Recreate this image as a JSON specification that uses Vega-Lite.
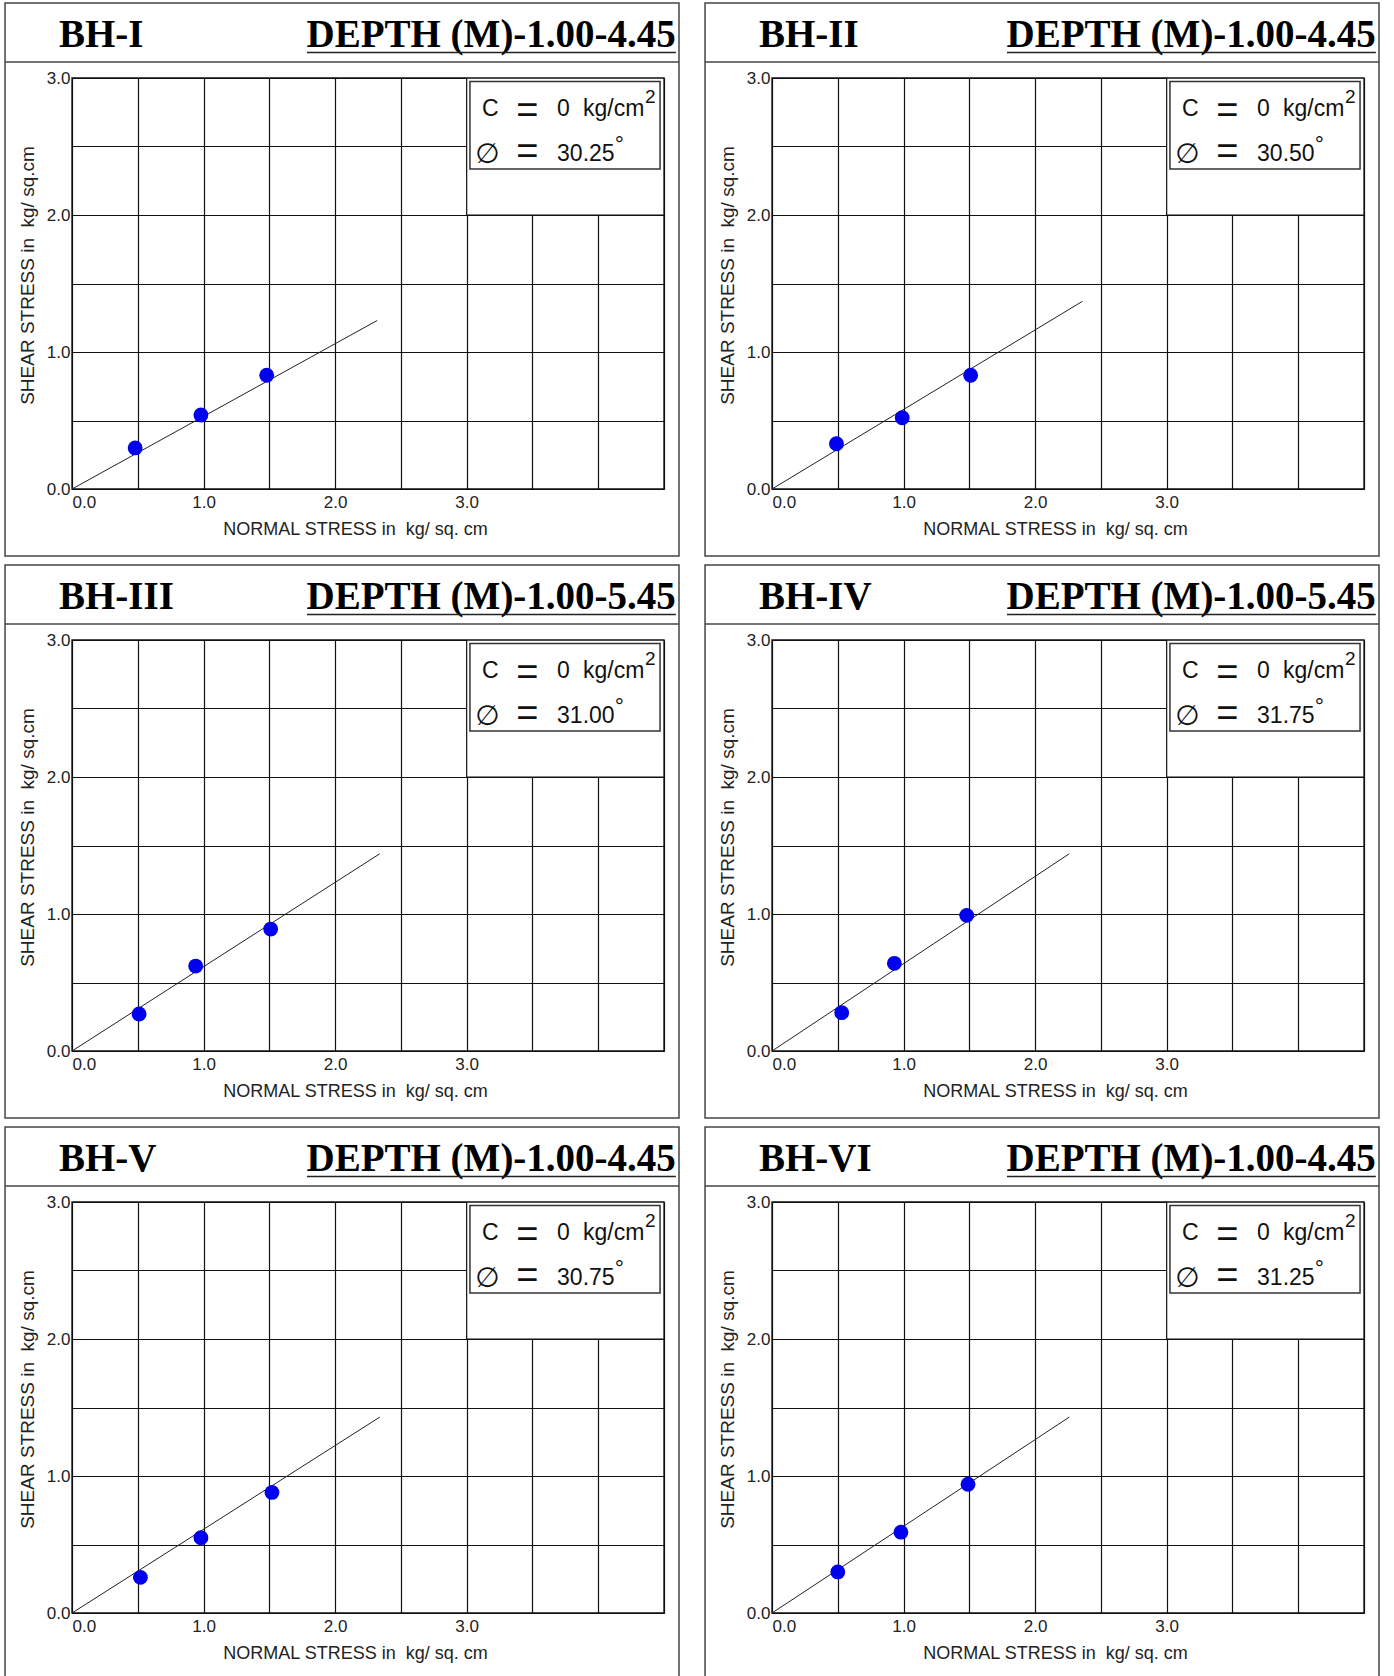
{
  "$schema": "https://vega.github.io/schema/vega-lite/v6.json",
  "autosize": {"type": "pad"},
  "padding": {"left": 4, "top": 1, "right": 0, "bottom": 0},
  "background": "white",
  "data": {"values": [
    {"bh": "BH-I", "kind": "info", "depth": "DEPTH (M)-1.00-4.45", "c": 0, "phi": 30.25},
    {"bh": "BH-I", "kind": "pt", "x": 0.48, "y": 0.30},
    {"bh": "BH-I", "kind": "pt", "x": 0.98, "y": 0.54},
    {"bh": "BH-I", "kind": "pt", "x": 1.48, "y": 0.83},
    {"bh": "BH-I", "kind": "line", "x": 0, "y": 0},
    {"bh": "BH-I", "kind": "line", "x": 2.32, "y": 1.23},
    {"bh": "BH-II", "kind": "info", "depth": "DEPTH (M)-1.00-4.45", "c": 0, "phi": 30.50},
    {"bh": "BH-II", "kind": "pt", "x": 0.49, "y": 0.33},
    {"bh": "BH-II", "kind": "pt", "x": 0.99, "y": 0.52},
    {"bh": "BH-II", "kind": "pt", "x": 1.51, "y": 0.83},
    {"bh": "BH-II", "kind": "line", "x": 0, "y": 0},
    {"bh": "BH-II", "kind": "line", "x": 2.36, "y": 1.37},
    {"bh": "BH-III", "kind": "info", "depth": "DEPTH (M)-1.00-5.45", "c": 0, "phi": 31.00},
    {"bh": "BH-III", "kind": "pt", "x": 0.51, "y": 0.27},
    {"bh": "BH-III", "kind": "pt", "x": 0.94, "y": 0.62},
    {"bh": "BH-III", "kind": "pt", "x": 1.51, "y": 0.89},
    {"bh": "BH-III", "kind": "line", "x": 0, "y": 0},
    {"bh": "BH-III", "kind": "line", "x": 2.34, "y": 1.44},
    {"bh": "BH-IV", "kind": "info", "depth": "DEPTH (M)-1.00-5.45", "c": 0, "phi": 31.75},
    {"bh": "BH-IV", "kind": "pt", "x": 0.53, "y": 0.28},
    {"bh": "BH-IV", "kind": "pt", "x": 0.93, "y": 0.64},
    {"bh": "BH-IV", "kind": "pt", "x": 1.48, "y": 0.99},
    {"bh": "BH-IV", "kind": "line", "x": 0, "y": 0},
    {"bh": "BH-IV", "kind": "line", "x": 2.26, "y": 1.44},
    {"bh": "BH-V", "kind": "info", "depth": "DEPTH (M)-1.00-4.45", "c": 0, "phi": 30.75},
    {"bh": "BH-V", "kind": "pt", "x": 0.52, "y": 0.26},
    {"bh": "BH-V", "kind": "pt", "x": 0.98, "y": 0.55},
    {"bh": "BH-V", "kind": "pt", "x": 1.52, "y": 0.88},
    {"bh": "BH-V", "kind": "line", "x": 0, "y": 0},
    {"bh": "BH-V", "kind": "line", "x": 2.34, "y": 1.43},
    {"bh": "BH-VI", "kind": "info", "depth": "DEPTH (M)-1.00-4.45", "c": 0, "phi": 31.25},
    {"bh": "BH-VI", "kind": "pt", "x": 0.50, "y": 0.30},
    {"bh": "BH-VI", "kind": "pt", "x": 0.98, "y": 0.59},
    {"bh": "BH-VI", "kind": "pt", "x": 1.49, "y": 0.94},
    {"bh": "BH-VI", "kind": "line", "x": 0, "y": 0},
    {"bh": "BH-VI", "kind": "line", "x": 2.26, "y": 1.43}
  ]},
  "facet": {"field": "bh", "type": "nominal", "sort": ["BH-I", "BH-II", "BH-III", "BH-IV", "BH-V", "BH-VI"], "header": {"title": null, "labels": false, "labelExpr": "''", "labelFontSize": 1, "labelPadding": 0}},
  "columns": 2,
  "spacing": {"row": 151, "column": 108},
  "bounds": "flush",
  "resolve": {"axis": {"x": "independent", "y": "independent"}},
  "spec": {
    "width": 592,
    "height": 411,
    "layer": [
      {
        "transform": [{"filter": "datum.kind === 'info'"}],
        "layer": [
          {"mark": {"type": "rect", "fill": "#ffffff", "strokeWidth": 0},
           "encoding": {
             "x": {"datum": 3, "type": "quantitative", "scale": {"domain": [0, 4.5], "nice": false, "zero": false},
               "axis": {"values": [0, 0.5, 1, 1.5, 2, 2.5, 3, 3.5, 4, 4.5], "labelExpr": "datum.value <= 3 && datum.value % 1 === 0 ? format(datum.value, '.1f') : ''", "grid": true, "gridColor": "#111111", "gridWidth": 1.2, "ticks": false, "domain": false, "labelFont": "Liberation Sans", "labelFontSize": 17, "labelColor": "#222222", "labelPadding": 5, "labelDx": 4, "labelFlush": true, "labelOverlap": false, "title": "NORMAL STRESS in\u00a0 kg/ sq. cm", "titleFont": "Liberation Sans", "titleFontSize": 18, "titleFontWeight": "normal", "titleColor": "#222222", "titlePadding": 10, "titleX": 283}},
             "x2": {"datum": 4.5},
             "y": {"datum": 2, "type": "quantitative", "scale": {"domain": [0, 3], "nice": false, "zero": false},
               "axis": {"values": [0, 0.5, 1, 1.5, 2, 2.5, 3], "labelExpr": "datum.value % 1 === 0 ? format(datum.value, '.1f') : ''", "grid": true, "gridColor": "#111111", "gridWidth": 1.2, "ticks": false, "domain": false, "labelFont": "Liberation Sans", "labelFontSize": 17, "labelColor": "#222222", "labelPadding": 2, "labelOverlap": false, "title": "SHEAR STRESS in\u00a0 kg/ sq.cm", "titleFont": "Liberation Sans", "titleFontSize": 19, "titleFontWeight": "normal", "titleColor": "#222222", "titlePadding": 9, "titleY": 197}},
             "y2": {"datum": 3}
           }},
          {"mark": {"type": "rule", "color": "#111111", "strokeWidth": 1.2},
           "encoding": {"x": {"datum": 3, "type": "quantitative", "scale": {"domain": [0, 4.5], "nice": false, "zero": false}}, "y": {"datum": 2, "type": "quantitative", "scale": {"domain": [0, 3], "nice": false, "zero": false}}, "y2": {"datum": 3}}},
          {"mark": {"type": "rule", "color": "#111111", "strokeWidth": 1.2},
           "encoding": {"x": {"datum": 3, "type": "quantitative", "scale": {"domain": [0, 4.5], "nice": false, "zero": false}}, "x2": {"datum": 4.5}, "y": {"datum": 2, "type": "quantitative", "scale": {"domain": [0, 3], "nice": false, "zero": false}}}},
          {"mark": {"type": "rect", "filled": false, "stroke": "#111111", "strokeWidth": 1.3},
           "encoding": {"x": {"datum": 0, "type": "quantitative", "scale": {"domain": [0, 4.5], "nice": false, "zero": false}}, "x2": {"datum": 4.5}, "y": {"datum": 0, "type": "quantitative", "scale": {"domain": [0, 3], "nice": false, "zero": false}}, "y2": {"datum": 3}}},
          {"mark": {"type": "rect", "filled": false, "stroke": "#444444", "strokeWidth": 1.5},
           "encoding": {"x": {"datum": -0.509, "type": "quantitative", "scale": {"domain": [0, 4.5], "nice": false, "zero": false}}, "x2": {"datum": 4.614}, "y": {"datum": -0.489, "type": "quantitative", "scale": {"domain": [0, 3], "nice": false, "zero": false}}, "y2": {"datum": 3.547}}},
          {"mark": {"type": "rule", "color": "#444444", "strokeWidth": 1.5},
           "encoding": {"x": {"datum": -0.509, "type": "quantitative", "scale": {"domain": [0, 4.5], "nice": false, "zero": false}}, "x2": {"datum": 4.614}, "y": {"datum": 3.117, "type": "quantitative", "scale": {"domain": [0, 3], "nice": false, "zero": false}}}},
          {"mark": {"type": "text", "font": "Liberation Serif", "fontWeight": "bold", "fontSize": 39, "align": "left", "baseline": "alphabetic", "color": "#000000"},
           "encoding": {"x": {"datum": -0.099, "type": "quantitative", "scale": {"domain": [0, 4.5], "nice": false, "zero": false}}, "y": {"datum": 3.226, "type": "quantitative", "scale": {"domain": [0, 3], "nice": false, "zero": false}}, "text": {"field": "bh", "type": "nominal"}}},
          {"mark": {"type": "text", "font": "Liberation Serif", "fontWeight": "bold", "fontSize": 39, "align": "right", "baseline": "alphabetic", "color": "#000000"},
           "encoding": {"x": {"datum": 4.59, "type": "quantitative", "scale": {"domain": [0, 4.5], "nice": false, "zero": false}}, "y": {"datum": 3.226, "type": "quantitative", "scale": {"domain": [0, 3], "nice": false, "zero": false}}, "text": {"field": "depth", "type": "nominal"}}},
          {"mark": {"type": "rule", "color": "#222222", "strokeWidth": 1.5},
           "encoding": {"x": {"datum": 1.786, "type": "quantitative", "scale": {"domain": [0, 4.5], "nice": false, "zero": false}}, "x2": {"datum": 4.59}, "y": {"datum": 3.186, "type": "quantitative", "scale": {"domain": [0, 3], "nice": false, "zero": false}}}},
          {"mark": {"type": "rect", "fill": "#ffffff", "stroke": "#333333", "strokeWidth": 1.5},
           "encoding": {"x": {"datum": 3.025, "type": "quantitative", "scale": {"domain": [0, 4.5], "nice": false, "zero": false}}, "x2": {"datum": 4.47}, "y": {"datum": 2.336, "type": "quantitative", "scale": {"domain": [0, 3], "nice": false, "zero": false}}, "y2": {"datum": 2.975}}},
          {"mark": {"type": "text", "text": "C", "font": "Liberation Sans", "fontSize": 23, "align": "left", "baseline": "alphabetic", "color": "#111111"},
           "encoding": {"x": {"datum": 3.117, "type": "quantitative", "scale": {"domain": [0, 4.5], "nice": false, "zero": false}}, "y": {"datum": 2.723, "type": "quantitative", "scale": {"domain": [0, 3], "nice": false, "zero": false}}}},
          {"mark": {"type": "text", "text": "=", "font": "Liberation Sans", "fontSize": 38, "align": "center", "baseline": "alphabetic", "color": "#111111"},
           "encoding": {"x": {"datum": 3.462, "type": "quantitative", "scale": {"domain": [0, 4.5], "nice": false, "zero": false}}, "y": {"datum": 2.669, "type": "quantitative", "scale": {"domain": [0, 3], "nice": false, "zero": false}}}},
          {"mark": {"type": "text", "font": "Liberation Sans", "fontSize": 23, "align": "left", "baseline": "alphabetic", "color": "#111111"},
           "encoding": {"x": {"datum": 3.687, "type": "quantitative", "scale": {"domain": [0, 4.5], "nice": false, "zero": false}}, "y": {"datum": 2.723, "type": "quantitative", "scale": {"domain": [0, 3], "nice": false, "zero": false}}, "text": {"field": "c", "type": "quantitative", "format": "d"}}},
          {"mark": {"type": "text", "text": "kg/cm", "font": "Liberation Sans", "fontSize": 23, "align": "left", "baseline": "alphabetic", "color": "#111111"},
           "encoding": {"x": {"datum": 3.884, "type": "quantitative", "scale": {"domain": [0, 4.5], "nice": false, "zero": false}}, "y": {"datum": 2.723, "type": "quantitative", "scale": {"domain": [0, 3], "nice": false, "zero": false}}}},
          {"mark": {"type": "text", "text": "2", "font": "Liberation Sans", "fontSize": 19, "align": "left", "baseline": "alphabetic", "color": "#111111"},
           "encoding": {"x": {"datum": 4.355, "type": "quantitative", "scale": {"domain": [0, 4.5], "nice": false, "zero": false}}, "y": {"datum": 2.818, "type": "quantitative", "scale": {"domain": [0, 3], "nice": false, "zero": false}}}},
          {"mark": {"type": "text", "text": "∅", "font": "DejaVu Sans", "fontSize": 28, "align": "center", "baseline": "alphabetic", "color": "#111111"},
           "encoding": {"x": {"datum": 3.158, "type": "quantitative", "scale": {"domain": [0, 4.5], "nice": false, "zero": false}}, "y": {"datum": 2.38, "type": "quantitative", "scale": {"domain": [0, 3], "nice": false, "zero": false}}}},
          {"mark": {"type": "text", "text": "=", "font": "Liberation Sans", "fontSize": 38, "align": "center", "baseline": "alphabetic", "color": "#111111"},
           "encoding": {"x": {"datum": 3.462, "type": "quantitative", "scale": {"domain": [0, 4.5], "nice": false, "zero": false}}, "y": {"datum": 2.369, "type": "quantitative", "scale": {"domain": [0, 3], "nice": false, "zero": false}}}},
          {"mark": {"type": "text", "font": "Liberation Sans", "fontSize": 23, "align": "left", "baseline": "alphabetic", "color": "#111111"},
           "encoding": {"x": {"datum": 3.687, "type": "quantitative", "scale": {"domain": [0, 4.5], "nice": false, "zero": false}}, "y": {"datum": 2.394, "type": "quantitative", "scale": {"domain": [0, 3], "nice": false, "zero": false}}, "text": {"field": "phi", "type": "quantitative", "format": ".2f"}}},
          {"mark": {"type": "text", "text": "°", "font": "Liberation Sans", "fontSize": 23, "align": "left", "baseline": "alphabetic", "color": "#111111"},
           "encoding": {"x": {"datum": 4.125, "type": "quantitative", "scale": {"domain": [0, 4.5], "nice": false, "zero": false}}, "y": {"datum": 2.46, "type": "quantitative", "scale": {"domain": [0, 3], "nice": false, "zero": false}}}}
        ]
      },
      {
        "transform": [{"filter": "datum.kind === 'line'"}],
        "mark": {"type": "line", "color": "#222222", "strokeWidth": 1},
        "encoding": {
          "x": {"field": "x", "type": "quantitative", "scale": {"domain": [0, 4.5], "nice": false, "zero": false}},
          "y": {"field": "y", "type": "quantitative", "scale": {"domain": [0, 3], "nice": false, "zero": false}},
          "order": {"field": "x", "type": "quantitative"}
        }
      },
      {
        "transform": [{"filter": "datum.kind === 'pt'"}],
        "mark": {"type": "circle", "size": 220, "color": "#0000ee", "opacity": 1},
        "encoding": {
          "x": {"field": "x", "type": "quantitative", "scale": {"domain": [0, 4.5], "nice": false, "zero": false}},
          "y": {"field": "y", "type": "quantitative", "scale": {"domain": [0, 3], "nice": false, "zero": false}}
        }
      }
    ]
  },
  "config": {"view": {"stroke": null}, "header": {"labels": false, "labelExpr": "''", "labelFontSize": 1, "labelPadding": 0}}
}
